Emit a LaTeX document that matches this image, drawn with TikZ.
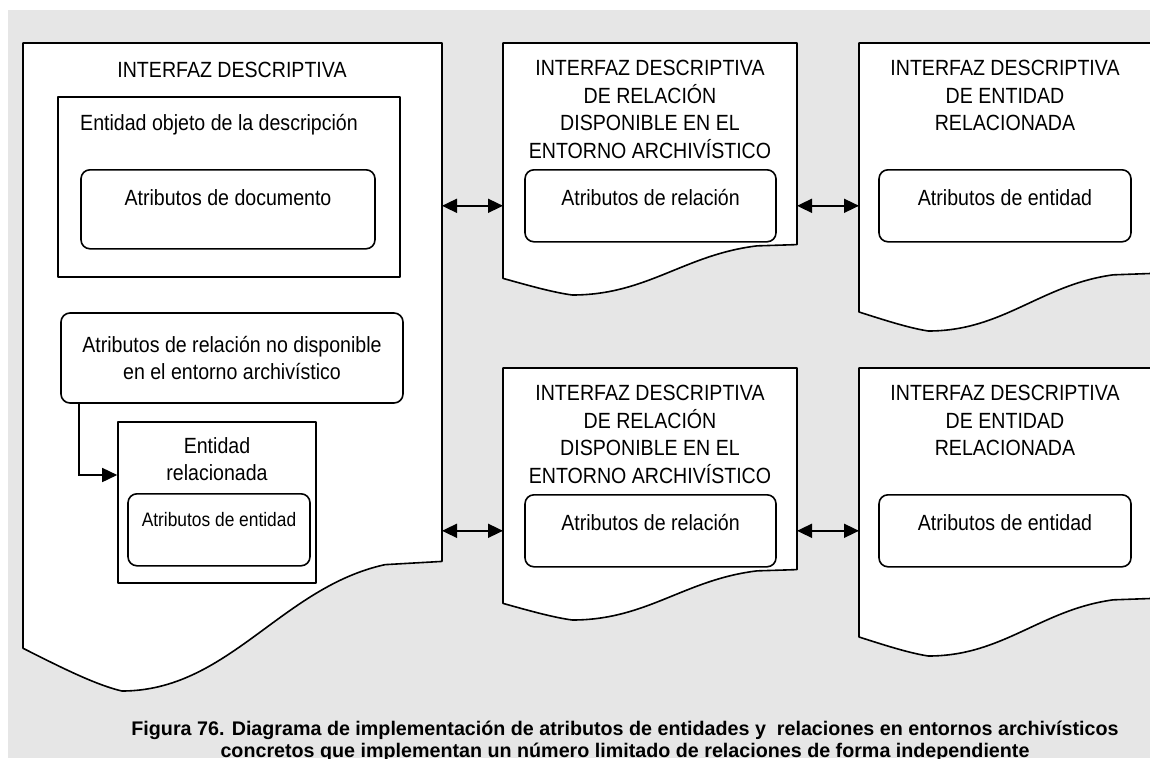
\documentclass[tikz,border=0pt]{standalone}
\usepackage{fontspec}
\setmainfont{Liberation Sans}[FakeStretch=0.89]
\newfontfamily\captionfont{Liberation Sans}
\usetikzlibrary{arrows.meta}

\definecolor{paneGray}{RGB}{230,230,230}

% page with a torn lower edge: left, top, width, height, name
\newcommand{\docpage}[5]{%
  \begin{scope}[shift={(#1,#2)}, x=#3pt, y=-#4pt]
    \draw[frame, fill=white] (0,0) -- (1,0) -- (1,0.80) -- (0.864,0.805)
      .. controls (0.616,0.84) and (0.49,1) .. (0.236,1)
      .. controls (0.17,0.99) and (0.08,0.96) .. (0,0.934) -- cycle;
    \coordinate (#5-w) at (0,0.5);
    \coordinate (#5-e) at (1,0.5);
  \end{scope}}

\begin{document}
\begin{tikzpicture}[x=1pt, y=-1pt,
    frame/.style={line width=1.6pt, line join=round},
    plainbox/.style={frame, draw, fill=white, inner sep=0pt},
    roundbox/.style={frame, draw, fill=white, rounded corners=9pt, inner xsep=0pt, inner ysep=0pt},
    txt/.style={font=\fontsize{22}{27.7}\selectfont},
    smalltxt/.style={font=\fontsize{19.5}{24}\selectfont},
    title/.style={txt, align=center, anchor=north, inner sep=0pt},
    tip/.style={-{Triangle[length=15pt, width=14pt]}, line width=1.6pt},
    bitip/.style={{Triangle[length=15pt, width=14pt]}-{Triangle[length=15pt, width=14pt]}, line width=1.6pt}]

    % --- Canvas ---
    \fill[white] (0,0) rectangle (1150,758);
    \fill[paneGray] (8,10) rectangle (1150,758);
    \useasboundingbox (0,0) rectangle (1150,758);

    % --- Pages ---
    \docpage{23}{43}{419}{648}{docL}
    \docpage{503}{43}{294}{252}{docMA}
    \docpage{859}{43}{294}{288}{docRA}
    \docpage{503}{368}{294}{252}{docMB}
    \docpage{859}{368}{294}{288}{docRB}

    % --- Main descriptive interface ---
    \node[txt, anchor=base] (tL) at (232,77) {INTERFAZ DESCRIPTIVA};
    \node[plainbox, minimum width=342pt, minimum height=180pt] (entObj) at (229,187) {};
    \node[txt, anchor=base west, inner sep=0pt] (entObjT) at (80,130) {Entidad objeto de la descripción};
    \node[roundbox, txt, anchor=north, minimum width=294pt, text height=36pt, text depth=43pt]
        (attrDoc) at (228,169) {Atributos de documento};
    \node[roundbox, txt, align=center, minimum width=342pt, minimum height=90pt]
        (relNo) at (232,358) {Atributos de relación no disponible\\en el entorno archivístico};
    \node[plainbox, minimum width=198pt, minimum height=161pt] (entRel) at (217,502.5) {};
    \node[title] (entRelT) at (217,437) {Entidad\\relacionada};
    \node[roundbox, smalltxt, anchor=north, minimum width=182pt, text height=33pt, text depth=39pt]
        (attrEnt) at (219,493) {Atributos de entidad};
    \draw[tip] ([xshift=19pt]relNo.south west) |- ([yshift=27.5pt]entRel.west);

    % --- Upper row ---
    \node[title] (tMA) at (650,60) {INTERFAZ DESCRIPTIVA\\DE RELACIÓN\\DISPONIBLE EN EL\\ENTORNO ARCHIVÍSTICO};
    \node[roundbox, txt, anchor=north, minimum width=251pt, text height=36pt, text depth=36pt]
        (relA) at (650.5,169) {Atributos de relación};
    \node[title] (tRA) at (1005,60) {INTERFAZ DESCRIPTIVA\\DE ENTIDAD\\RELACIONADA};
    \node[roundbox, txt, anchor=north, minimum width=252pt, text height=36pt, text depth=36pt]
        (entA) at (1005,169) {Atributos de entidad};
    \draw[bitip] (docL-e |- relA) -- (docMA-w |- relA);
    \draw[bitip] (docMA-e |- entA) -- (docRA-w |- entA);

    % --- Lower row ---
    \node[title] (tMB) at (650,385) {INTERFAZ DESCRIPTIVA\\DE RELACIÓN\\DISPONIBLE EN EL\\ENTORNO ARCHIVÍSTICO};
    \node[roundbox, txt, anchor=north, minimum width=251pt, text height=36pt, text depth=36pt]
        (relB) at (650.5,494) {Atributos de relación};
    \node[title] (tRB) at (1005,385) {INTERFAZ DESCRIPTIVA\\DE ENTIDAD\\RELACIONADA};
    \node[roundbox, txt, anchor=north, minimum width=252pt, text height=36pt, text depth=36pt]
        (entB) at (1005,494) {Atributos de entidad};
    \draw[bitip] (docL-e |- relB) -- (docMB-w |- relB);
    \draw[bitip] (docMB-e |- entB) -- (docRB-w |- entB);

    % --- Caption ---
    \node[font=\captionfont\bfseries\fontsize{19.7}{21.5}\selectfont, align=center, anchor=north, inner sep=0pt]
        (cap) at (625,721) {Figura 76. Diagrama de implementación de atributos de entidades y~ relaciones en entornos archivísticos\\
        concretos que implementan un número limitado de relaciones de forma independiente};

\end{tikzpicture}
\end{document}
